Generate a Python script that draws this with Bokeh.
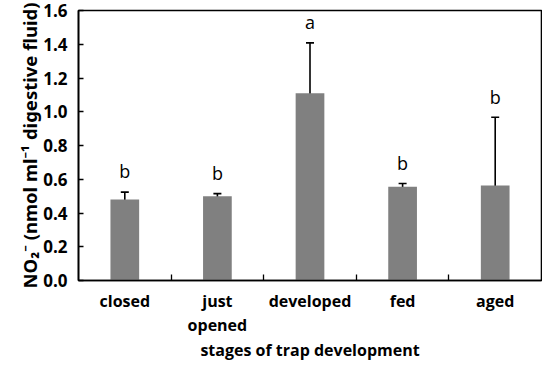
from bokeh.plotting import figure
from bokeh.models import ColumnDataSource, Whisker, TeeHead, FixedTicker, Range1d, PrintfTickFormatter
from bokeh.core.properties import value
from bokeh.embed import file_html
from bokeh.resources import INLINE

stages = ["closed", "just\nopened", "developed", "fed", "aged"]
means = [0.48, 0.50, 1.11, 0.555, 0.563]
errors = [0.044, 0.015, 0.298, 0.02, 0.404]
letters = ["b", "b", "a", "b", "b"]
y_ticks = [0.0, 0.2, 0.4, 0.6, 0.8, 1.0, 1.2, 1.4, 1.6]
x_title = "stages of trap development"
y_title = "NO\u2082\u207b (nmol ml\u207b\u00b9 digestive fluid)"

FONT = "Open Sans"

xs = [i + 0.5 for i in range(len(stages))]
upper = [m + e for m, e in zip(means, errors)]
lower = [m - e for m, e in zip(means, errors)]
src = ColumnDataSource(dict(x=xs, top=means, upper=upper, lower=lower,
                            ly=[u + 0.122 for u in upper], letter=letters))

p = figure(width=542, height=363, output_backend="svg", toolbar_location=None,
           x_range=Range1d(0, len(stages)), y_range=Range1d(0, 1.6),
           min_border_left=78, min_border_right=1, min_border_top=10, min_border_bottom=81)

p.vbar(x="x", top="top", width=0.31, bottom=0, source=src,
       fill_color="#808080", line_color=None)

w = Whisker(base="x", upper="upper", lower="lower", source=src,
            line_color="black", line_width=1.6,
            upper_head=TeeHead(size=8, line_color="black", line_width=1.6),
            lower_head=TeeHead(size=8, line_color="black", line_width=1.6))
p.add_layout(w)

p.text(x="x", y="ly", text="letter", source=src, text_align="center",
       text_baseline="middle", text_font=value(FONT), text_font_size="18px",
       text_color="black")

p.grid.visible = False
p.outline_line_color = "black"
p.outline_line_width = 1.6
p.background_fill_color = "white"
p.border_fill_color = "white"

# y axis
ya = p.yaxis[0]
ya.ticker = FixedTicker(ticks=y_ticks)
ya.formatter = PrintfTickFormatter(format="%.1f")
ya.major_tick_in = 5
ya.major_tick_out = 0
ya.minor_tick_line_color = None
ya.axis_line_color = "black"
ya.axis_line_width = 1.6
ya.major_tick_line_width = 1.3
ya.major_label_text_font = FONT
ya.major_label_text_font_style = "bold"
ya.major_label_text_font_size = "17px"
ya.major_label_text_color = "black"
ya.major_label_standoff = 11
ya.axis_label = y_title
ya.axis_label_text_font = "Noto Sans"
ya.axis_label_text_font_style = "bold"
ya.axis_label_text_font_size = "18.5px"
ya.axis_label_text_color = "black"
ya.axis_label_standoff = -2

# x axis
xa = p.xaxis[0]
xa.ticker = FixedTicker(ticks=xs, minor_ticks=[i for i in range(1, len(stages))])
xa.major_label_overrides = {x: s for x, s in zip(xs, stages)}
xa.major_tick_in = 0
xa.major_tick_out = 0
xa.minor_tick_in = 6
xa.minor_tick_out = 0
xa.minor_tick_line_color = "black"
xa.minor_tick_line_width = 1.3
xa.axis_line_color = "black"
xa.axis_line_width = 1.6
xa.major_label_text_font = FONT
xa.major_label_text_font_style = "bold"
xa.major_label_text_font_size = "16px"
xa.major_label_text_color = "black"
xa.major_label_text_line_height = 1.1
xa.major_label_standoff = 9
xa.axis_label = x_title
xa.axis_label_text_font = FONT
xa.axis_label_text_font_style = "bold"
xa.axis_label_text_font_size = "16px"
xa.axis_label_text_color = "black"
xa.axis_label_standoff = 0

open("out.html", "w").write(file_html(p, INLINE))
